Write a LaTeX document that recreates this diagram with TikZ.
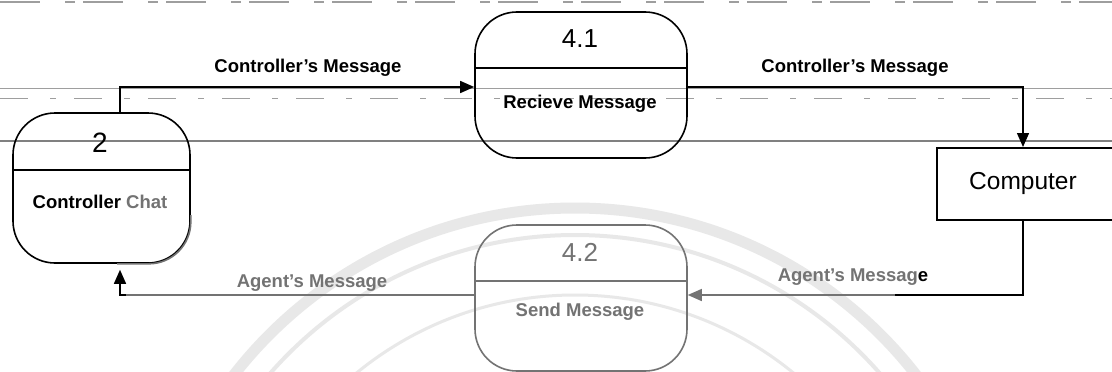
\documentclass[tikz,border=0pt]{standalone}
\usepackage{fontspec}
\setmainfont{Liberation Sans}
\usetikzlibrary{arrows.meta}
\definecolor{scangray}{gray}{0.45}
\definecolor{ruleline}{gray}{0.62}
\definecolor{emblem}{gray}{0.91}

\begin{document}
\begin{tikzpicture}[x=1pt,y=-1pt,
  proc/.style={draw, line width=1.6pt, rounded corners=42pt, inner sep=0pt},
  ext/.style={draw, line width=1.6pt, inner sep=0pt},
  num/.style={font=\fontsize{26}{28}\selectfont, inner sep=0pt},
  lbl/.style={font=\fontsize{18.5}{20}\selectfont\bfseries, inner sep=0pt},
  flow/.style={line width=1.4pt, -{Triangle[length=14pt,width=12pt]}},
]
\fill[white] (0,0) rectangle (1112,372);
\useasboundingbox (0,0) rectangle (1112,372);

% faint emblem printed on the page
\begin{scope}
  \clip (0,190) rectangle (1112,372);
  \draw[emblem, line width=11pt] (575,640) circle[radius=432];
  \draw[emblem, line width=4pt] (575,640) circle[radius=405];
  \draw[emblem, line width=3pt] (575,640) circle[radius=345];
\end{scope}

% ruled page lines behind the diagram
\draw[ruleline, line width=1.2pt, dash pattern=on 40pt off 25pt on 10pt off 8pt] (0,2) -- (1112,2);
\draw[ruleline, line width=0.9pt] (0,88) -- (1112,88);
\draw[ruleline, line width=1pt, dash pattern=on 28pt off 22pt on 6pt off 18pt] (0,98) -- (1112,98);
\draw[gray, line width=1.8pt] (0,141) -- (1112,141);

% helper coordinates for the connector lanes
\coordinate (k1) at (120,87);
\coordinate (k2) at (1023,295);
\coordinate (d2) at (0,170);
\coordinate (d41) at (0,68);
\coordinate (d42) at (0,281);
\coordinate (tint) at (895,295);

% processes and external entity
\node[proc, minimum width=177pt, minimum height=150pt] (p2) at (101.5,188) {};
\node[proc, minimum width=212pt, minimum height=146pt] (p41) at (581,85) {};
\node[proc, draw=scangray, minimum width=212pt, minimum height=146pt] (p42) at (581,298) {};
\node[ext, minimum width=200pt, minimum height=72pt, anchor=north west] (comp) at (936,147) {};

% lower right of process 2 printed lighter
\begin{scope}
  \clip (117,215) rectangle (200,275);
  \draw[scangray, line width=1.6pt, rounded corners=42pt] (p2.south west) rectangle (p2.north east);
\end{scope}

% dividers
\draw[line width=1.6pt] (p2.west |- d2) -- (p2.east |- d2);
\draw[line width=1.6pt] (p41.west |- d41) -- (p41.east |- d41);
\draw[scangray, line width=1.6pt] (p42.west |- d42) -- (p42.east |- d42);

% texts
\node[num, font=\fontsize{28}{30}\selectfont] (n2) at (100,143) {2};
\node[lbl] (t2) at (100,202) {Controller \textcolor{scangray}{Chat}};
\node[num] (n41) at (580,39) {4.1};
\node[lbl] (t41) at (580,104) {Recieve Message};
\node[num, text=scangray] (n42) at (580,252) {4.2};
\node[lbl, text=scangray] (t42) at (580,312) {Send Message};
\node[font=\fontsize{24.5}{26}\selectfont, inner sep=0pt] (ct) at (1023,183) {Computer};

% data flows
\draw[flow] (p2.north -| k1) |- (p41.west |- k1);
\draw[flow] (p41.east |- k1) -| (comp.north -| k2);
\draw[flow, scangray] (comp.south -| k2) |- (p42.east |- k2);
\draw[line width=1.4pt] (comp.south -| k2) |- (tint);
\draw[flow, shorten >=6pt] (p42.west |- k2) -| (p2.south -| k1);
\draw[scangray, line width=1.4pt] (p42.west |- k2) -- ([xshift=6pt]k1 |- k2);

% flow labels
\node[lbl] (l1) at (308,68) {Controller's Message};
\node[lbl] (l2) at (855,68) {Controller's Message};
\node[lbl, text=scangray] (l3) at (312,283) {Agent's Message};
\node[lbl, text=scangray] (l4) at (853,277) {Agent's Messag\textcolor{black}{e}};
\end{tikzpicture}
\end{document}
